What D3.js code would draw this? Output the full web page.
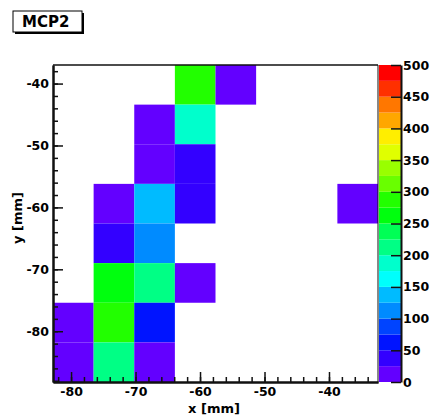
<!DOCTYPE html>
<html>
<head>
<meta charset="utf-8">
<script src="https://cdn.jsdelivr.net/npm/d3@7"></script>
<style>
  html, body { margin: 0; padding: 0; background: #fff; }
  svg { display: block; }
</style>
</head>
<body>
<svg id="chart" width="430" height="417"></svg>
<script>
// Histogram binning (mm)
const xRange = [-82.8, -32.4];
const yRange = [-88.2, -37.0];
const nBinsX = 8;
const nBinsY = 8;

// Counts per bin, rows listed from the top (largest y) down, columns left to right
const row0 = [0, 0, 0, 285, 12, 0, 0, 0];
const row1 = [0, 0, 10, 185, 0, 0, 0, 0];
const row2 = [0, 0, 8, 38, 0, 0, 0, 0];
const row3 = [0, 12, 140, 35, 0, 0, 0, 10];
const row4 = [0, 40, 112, 0, 0, 0, 0, 0];
const row5 = [0, 262, 212, 10, 0, 0, 0, 0];
const row6 = [10, 288, 62, 0, 0, 0, 0, 0];
const row7 = [10, 215, 8, 0, 0, 0, 0, 0];
const rows = [row0, row1, row2, row3, row4, row5, row6, row7];

// Z scale and contour levels
const zRange = [0, 500];
const nContours = 20;
const xTickValues = [-80, -70, -60, -50, -40];
const yTickValues = [-80, -70, -60, -50, -40];
const zTickValues = [0, 50, 100, 150, 200, 250, 300, 350, 400, 450, 500];
const title = "MCP2";
const xTitle = "x [mm]";
const yTitle = "y [mm]";

const FONT = "DejaVu Sans, Liberation Sans, Arial, sans-serif";
const plainNumber = d => String(d);

const svg = d3.select("#chart");
const frame = { left: 53, right: 378, top: 65, bottom: 382 };
const bar = { left: 379, right: 401 };

const x = d3.scaleLinear().domain(xRange).range([frame.left, frame.right]);
const y = d3.scaleLinear().domain(yRange).range([frame.bottom, frame.top]);
const z = d3.scaleLinear().domain(zRange).range([frame.bottom, frame.top]);

// Rainbow palette of 50 hues (violet -> red), sampled into the contour bands
const nPalette = 50;
function bandColor(level) {
  const ci = Math.floor((level + 0.99) * nPalette / nContours);
  const hue = 280 - (ci + 1) * (280 / nPalette);
  return d3.hsl(hue, 1, 0.5).formatHex();
}
const bandWidth = (zRange[1] - zRange[0]) / nContours;
function colorOf(v) {
  const level = Math.max(0, Math.min(nContours - 1, Math.floor((v - zRange[0]) / bandWidth)));
  return bandColor(level);
}

// Flatten bins into cells
const dx = (xRange[1] - xRange[0]) / nBinsX;
const dy = (yRange[1] - yRange[0]) / nBinsY;
const cells = [];
rows.forEach((row, r) => {
  const iy = nBinsY - 1 - r;
  row.forEach((v, ix) => {
    if (v > 0) {
      cells.push({
        x0: xRange[0] + ix * dx, x1: xRange[0] + (ix + 1) * dx,
        y0: yRange[0] + iy * dy, y1: yRange[0] + (iy + 1) * dy,
        v
      });
    }
  });
});

svg.append("g").selectAll("rect")
  .data(cells)
  .join("rect")
  .attr("x", d => x(d.x0))
  .attr("y", d => y(d.y1))
  .attr("width", d => x(d.x1) - x(d.x0))
  .attr("height", d => y(d.y0) - y(d.y1))
  .attr("fill", d => colorOf(d.v));

// Frame top and right edges
svg.append("line")
  .attr("x1", frame.left).attr("x2", frame.right)
  .attr("y1", frame.top).attr("y2", frame.top)
  .attr("stroke", "#111").attr("stroke-width", 1.5);
svg.append("line")
  .attr("x1", frame.right).attr("x2", frame.right)
  .attr("y1", frame.top).attr("y2", frame.bottom)
  .attr("stroke", "#111").attr("stroke-width", 1);

function styleAxis(g) {
  g.attr("font-family", FONT).attr("font-size", 12.5).attr("font-weight", "bold");
  g.selectAll("text").attr("fill", "#000");
  g.selectAll("line").attr("stroke", "#111").attr("stroke-width", 1.5);
  g.select(".domain").attr("stroke", "#111").attr("stroke-width", 2);
}

// X axis: minor every 2 mm, major every 10 mm, ticks pointing inward
const xMinor = d3.range(-82, -32, 2);
svg.append("g")
  .attr("transform", `translate(0,${frame.bottom})`)
  .call(d3.axisBottom(x).tickValues(xMinor).tickSize(-5).tickSizeOuter(0).tickFormat(""))
  .call(styleAxis);
svg.append("g")
  .attr("transform", `translate(0,${frame.bottom})`)
  .call(d3.axisBottom(x).tickValues(xTickValues).tickSize(-10).tickSizeOuter(0).tickPadding(5).tickFormat(plainNumber))
  .call(styleAxis);

// Y axis
const yMinor = d3.range(-88, -36, 2);
svg.append("g")
  .attr("transform", `translate(${frame.left},0)`)
  .call(d3.axisLeft(y).tickValues(yMinor).tickSize(-5).tickSizeOuter(0).tickFormat(""))
  .call(styleAxis);
svg.append("g")
  .attr("transform", `translate(${frame.left},0)`)
  .call(d3.axisLeft(y).tickValues(yTickValues).tickSize(-10).tickSizeOuter(0).tickPadding(4).tickFormat(plainNumber))
  .call(styleAxis);

// Colour bar
const levels = d3.range(nContours);
svg.append("g").selectAll("rect")
  .data(levels)
  .join("rect")
  .attr("x", bar.left)
  .attr("width", bar.right - bar.left)
  .attr("y", l => z(zRange[0] + (l + 1) * bandWidth))
  .attr("height", l => z(zRange[0] + l * bandWidth) - z(zRange[0] + (l + 1) * bandWidth))
  .attr("fill", l => bandColor(l));
svg.append("g")
  .attr("transform", `translate(${bar.right},0)`)
  .call(d3.axisRight(z).tickValues(zTickValues).tickSize(-10).tickSizeOuter(0).tickPadding(2).tickFormat(plainNumber))
  .call(styleAxis);

// Axis titles
svg.append("text")
  .attr("x", 214).attr("y", 413)
  .attr("text-anchor", "middle")
  .attr("font-family", FONT).attr("font-size", 13).attr("font-weight", "bold")
  .text(xTitle);
svg.append("text")
  .attr("transform", "translate(22,218) rotate(-90)")
  .attr("text-anchor", "middle")
  .attr("font-family", FONT).attr("font-size", 13).attr("font-weight", "bold")
  .text(yTitle);

// Title box with drop shadow
const tb = { x: 13, y: 11, w: 69, h: 21 };
svg.append("rect")
  .attr("x", tb.x + 2).attr("y", tb.y + 2).attr("width", tb.w).attr("height", tb.h)
  .attr("fill", "#000");
svg.append("rect")
  .attr("x", tb.x).attr("y", tb.y).attr("width", tb.w).attr("height", tb.h)
  .attr("fill", "#fff").attr("stroke", "#000").attr("stroke-width", 1);
svg.append("text")
  .attr("x", tb.x + 9).attr("y", tb.y + 16)
  .attr("font-family", FONT).attr("font-size", 15).attr("font-weight", "bold")
  .text(title);
</script>
</body>
</html>
